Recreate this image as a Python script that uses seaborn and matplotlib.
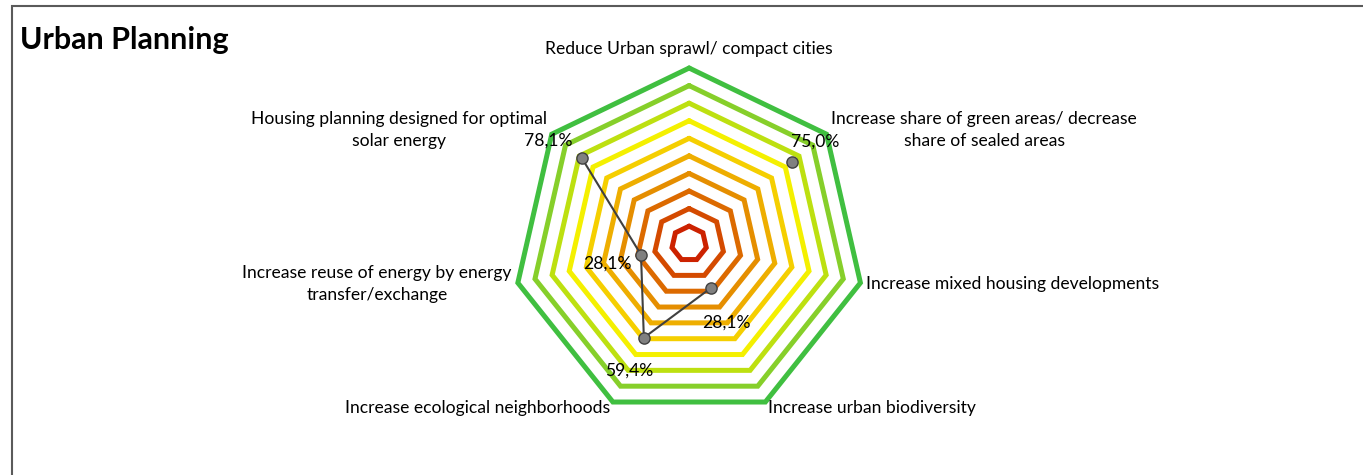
import numpy as np
import pandas as pd
import matplotlib.pyplot as plt
import seaborn as sns
from matplotlib.patches import Rectangle

categories = [
    'Reduce Urban sprawl/ compact cities',
    'Increase share of green areas/ decrease\nshare of sealed areas',
    'Increase mixed housing developments',
    'Increase urban biodiversity',
    'Increase ecological neighborhoods',
    'Increase reuse of energy by energy\ntransfer/exchange',
    'Housing planning designed for optimal\nsolar energy',
]
scores = [np.nan, 0.750, np.nan, 0.281, 0.594, 0.281, 0.781]
ring_levels = [0.1, 0.2, 0.3, 0.4, 0.5, 0.6, 0.7, 0.8, 0.9, 1.0]
ring_colors = ['#cc2200', '#d44a00', '#dc6a00', '#e58e00', '#eeae00',
               '#f5cf00', '#f4f000', '#bde010', '#86cf2a', '#40bf40']

sns.set_style('white')
plt.rcParams['font.family'] = ['Lato', 'DejaVu Sans']
plt.rcParams['text.color'] = 'black'

n = len(categories)
theta = np.arange(n) * 2 * np.pi / n
theta_closed = np.append(theta, theta[0])

df = pd.DataFrame({'theta': theta, 'score': scores, 'category': categories})

fig = plt.figure(figsize=(13.63, 4.75), dpi=100)
ax = fig.add_axes([0.3767, 0.117, 0.2578, 0.7398], projection='polar')
ax.set_theta_offset(np.pi / 2)
ax.set_theta_direction(-1)
ax.set_ylim(0, 1)
ax.set_axis_off()

# coloured heptagon rings
for lvl, col in zip(ring_levels, ring_colors):
    ax.plot(theta_closed, [lvl] * (n + 1), color=col, lw=3.6,
            solid_joinstyle='miter', clip_on=False, zorder=1)

# data line (gaps where no value) + markers
ax.plot(theta_closed, np.append(df['score'], df['score'].iloc[0]),
        color='#404040', lw=1.5, zorder=3, clip_on=False)
sns.scatterplot(data=df, x='theta', y='score', ax=ax, s=65, color='#808080',
                edgecolor='#404040', linewidth=1, zorder=5, clip_on=False)

# category labels
fs = 12.6
for t, lab in zip(theta, categories):
    s = np.sin(t)
    if abs(s) < 1e-6:
        ax.text(t, 1.11, lab, ha='center', va='center', fontsize=fs)
    else:
        ax.text(t, 1.035, lab, ha='left' if s > 0 else 'right', va='center',
                multialignment='center', fontsize=fs, linespacing=1.45)

# value labels
label_offsets = {1: (23, 20), 3: (16, -34), 4: (-15, -33), 5: (-34, -9), 6: (-34, 18)}
for i, (dx, dy) in label_offsets.items():
    v = df['score'].iloc[i]
    ax.annotate(f'{v * 100:.1f}%'.replace('.', ','), (theta[i], v),
                xytext=(dx, dy), textcoords='offset pixels',
                ha='center', va='center', fontsize=fs, zorder=6)

fig.text(20 / 1363, 1 - 40 / 475, 'Urban Planning', fontsize=22,
         fontweight='bold', va='center')
fig.add_artist(Rectangle((12 / 1363, -0.5), 2, 1.5 - 6 / 475, fill=False,
                         edgecolor='#5a5a5a', lw=1.5, transform=fig.transFigure))

fig.savefig('out.png', dpi=100)
